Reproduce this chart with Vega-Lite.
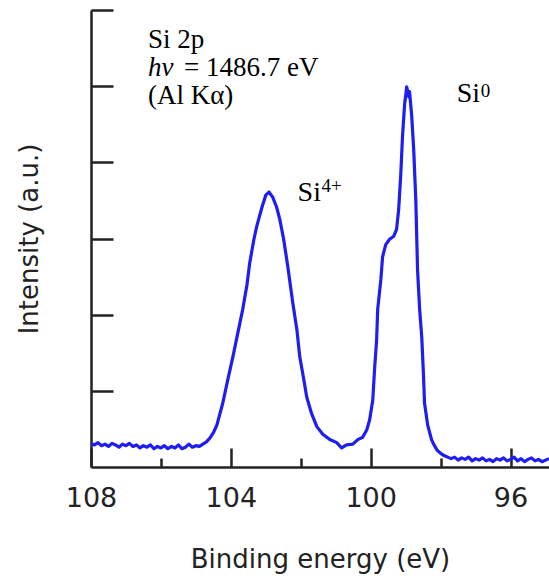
{
  "$schema": "https://vega.github.io/schema/vega-lite/v6.json",
  "width": 458,
  "height": 457,
  "autosize": {"type": "none"},
  "padding": {"left": 91, "top": 10, "right": 0, "bottom": 111},
  "config": {
    "view": {"stroke": null},
    "axis": {"grid": false}
  },
  "encoding": {
    "x": {
      "field": "E", "type": "quantitative",
      "scale": {"domain": [94.9, 108], "reverse": true, "nice": false, "zero": false},
      "axis": {
        "title": "Binding energy (eV)",
        "values": [108, 106, 104, 102, 100, 98, 96],
        "labelExpr": "datum.value % 4 == 0 ? datum.label : ''",
        "tickSize": {"condition": {"test": "datum.value % 4 == 0", "value": -19}, "value": -9},
        "tickWidth": 2.5, "tickColor": "#222",
        "domainColor": "#222", "domainWidth": 2.5,
        "labelFont": "DejaVu Sans", "labelFontSize": 27, "labelColor": "#222",
        "labelPadding": 37, "labelFlush": false, "labelOverlap": false,
        "titleFont": "DejaVu Sans", "titleFontSize": 26, "titleFontWeight": "normal", "titleColor": "#222",
        "titlePadding": 25
      }
    },
    "y": {
      "field": "I", "type": "quantitative",
      "scale": {"domain": [0, 6], "nice": false, "zero": true},
      "axis": {
        "title": "Intensity (a.u.)",
        "values": [1, 2, 3, 4, 5, 6],
        "labels": false,
        "tickSize": -22,
        "tickWidth": 2.5, "tickColor": "#222",
        "domainColor": "#222", "domainWidth": 2.5,
        "titleFont": "DejaVu Sans", "titleFontSize": 26, "titleFontWeight": "normal", "titleColor": "#222",
        "titlePadding": 47
      }
    }
  },
  "layer": [
    {
      "data": {"values": [
        {"E": 108.0, "I": 0.31}, {"E": 107.9, "I": 0.29}, {"E": 107.8, "I": 0.32}, {"E": 107.7, "I": 0.28},
        {"E": 107.6, "I": 0.30}, {"E": 107.5, "I": 0.27}, {"E": 107.4, "I": 0.31}, {"E": 107.3, "I": 0.29},
        {"E": 107.2, "I": 0.26}, {"E": 107.1, "I": 0.30}, {"E": 107.0, "I": 0.28}, {"E": 106.9, "I": 0.31},
        {"E": 106.8, "I": 0.27}, {"E": 106.7, "I": 0.29}, {"E": 106.6, "I": 0.25}, {"E": 106.5, "I": 0.28},
        {"E": 106.4, "I": 0.26}, {"E": 106.3, "I": 0.29}, {"E": 106.2, "I": 0.24}, {"E": 106.1, "I": 0.27},
        {"E": 106.0, "I": 0.25}, {"E": 105.9, "I": 0.28}, {"E": 105.8, "I": 0.24}, {"E": 105.7, "I": 0.27},
        {"E": 105.6, "I": 0.25}, {"E": 105.5, "I": 0.29}, {"E": 105.4, "I": 0.24}, {"E": 105.3, "I": 0.26},
        {"E": 105.2, "I": 0.30}, {"E": 105.1, "I": 0.26}, {"E": 105.0, "I": 0.28}, {"E": 104.9, "I": 0.27},
        {"E": 104.8, "I": 0.30}, {"E": 104.7, "I": 0.33}, {"E": 104.6, "I": 0.38}, {"E": 104.5, "I": 0.45},
        {"E": 104.4, "I": 0.55}, {"E": 104.23, "I": 0.84}, {"E": 104.09, "I": 1.14}, {"E": 103.94, "I": 1.45},
        {"E": 103.80, "I": 1.76}, {"E": 103.66, "I": 2.07}, {"E": 103.54, "I": 2.39}, {"E": 103.46, "I": 2.68},
        {"E": 103.34, "I": 2.99}, {"E": 103.26, "I": 3.16}, {"E": 103.11, "I": 3.41}, {"E": 103.00, "I": 3.57},
        {"E": 102.91, "I": 3.61}, {"E": 102.80, "I": 3.54}, {"E": 102.69, "I": 3.41}, {"E": 102.60, "I": 3.25},
        {"E": 102.49, "I": 2.99}, {"E": 102.37, "I": 2.63}, {"E": 102.23, "I": 2.16}, {"E": 102.11, "I": 1.80},
        {"E": 102.03, "I": 1.45}, {"E": 101.91, "I": 1.14}, {"E": 101.83, "I": 0.92}, {"E": 101.69, "I": 0.70},
        {"E": 101.54, "I": 0.53}, {"E": 101.37, "I": 0.43}, {"E": 101.17, "I": 0.36}, {"E": 100.97, "I": 0.32},
        {"E": 100.83, "I": 0.25}, {"E": 100.69, "I": 0.29}, {"E": 100.51, "I": 0.30}, {"E": 100.37, "I": 0.36},
        {"E": 100.23, "I": 0.39}, {"E": 100.11, "I": 0.49}, {"E": 100.03, "I": 0.62}, {"E": 99.94, "I": 0.88},
        {"E": 99.89, "I": 1.28}, {"E": 99.83, "I": 1.67}, {"E": 99.80, "I": 2.07}, {"E": 99.71, "I": 2.46},
        {"E": 99.66, "I": 2.76}, {"E": 99.57, "I": 2.92}, {"E": 99.46, "I": 2.99}, {"E": 99.34, "I": 3.03},
        {"E": 99.26, "I": 3.12}, {"E": 99.20, "I": 3.38}, {"E": 99.14, "I": 3.84}, {"E": 99.09, "I": 4.34},
        {"E": 99.03, "I": 4.76}, {"E": 98.97, "I": 4.99}, {"E": 98.91, "I": 4.86}, {"E": 98.89, "I": 4.93},
        {"E": 98.83, "I": 4.63}, {"E": 98.77, "I": 4.17}, {"E": 98.71, "I": 3.51}, {"E": 98.66, "I": 2.59},
        {"E": 98.60, "I": 2.07}, {"E": 98.54, "I": 1.71}, {"E": 98.49, "I": 1.21}, {"E": 98.46, "I": 0.84},
        {"E": 98.37, "I": 0.55}, {"E": 98.26, "I": 0.36}, {"E": 98.2, "I": 0.30}, {"E": 98.1, "I": 0.22},
        {"E": 98.0, "I": 0.18}, {"E": 97.9, "I": 0.15}, {"E": 97.8, "I": 0.13}, {"E": 97.7, "I": 0.11},
        {"E": 97.6, "I": 0.13}, {"E": 97.5, "I": 0.09}, {"E": 97.4, "I": 0.12}, {"E": 97.3, "I": 0.10},
        {"E": 97.2, "I": 0.13}, {"E": 97.1, "I": 0.08}, {"E": 97.0, "I": 0.11}, {"E": 96.9, "I": 0.09},
        {"E": 96.8, "I": 0.12}, {"E": 96.7, "I": 0.08}, {"E": 96.6, "I": 0.10}, {"E": 96.5, "I": 0.07},
        {"E": 96.4, "I": 0.11}, {"E": 96.3, "I": 0.09}, {"E": 96.2, "I": 0.12}, {"E": 96.1, "I": 0.08},
        {"E": 96.0, "I": 0.10}, {"E": 95.9, "I": 0.13}, {"E": 95.8, "I": 0.08}, {"E": 95.7, "I": 0.11},
        {"E": 95.6, "I": 0.07}, {"E": 95.5, "I": 0.10}, {"E": 95.4, "I": 0.12}, {"E": 95.3, "I": 0.08},
        {"E": 95.2, "I": 0.10}, {"E": 95.1, "I": 0.07}, {"E": 95.0, "I": 0.09}, {"E": 94.9, "I": 0.11}
      ]},
      "mark": {"type": "line", "color": "#1e1ef0", "strokeWidth": 3.2, "strokeJoin": "round", "clip": true}
    },
    {
      "data": {"values": [{"E": 106.37, "I": 5.50, "t": "Si 2p"}, {"E": 106.37, "I": 4.76, "t": "(Al Kα)"}]},
      "mark": {"type": "text", "font": "Liberation Serif", "fontSize": 27, "align": "left", "baseline": "alphabetic", "color": "#000"},
      "encoding": {"text": {"field": "t"}}
    },
    {
      "data": {"values": [{"E": 106.37, "I": 5.13, "t": "hν"}]},
      "mark": {"type": "text", "font": "Liberation Serif", "fontSize": 27, "fontStyle": "italic", "align": "left", "baseline": "alphabetic", "color": "#000"},
      "encoding": {"text": {"field": "t"}}
    },
    {
      "data": {"values": [{"E": 106.37, "I": 5.13, "t": "= 1486.7 eV"}]},
      "mark": {"type": "text", "font": "Liberation Serif", "fontSize": 27, "align": "left", "baseline": "alphabetic", "color": "#000", "dx": 36},
      "encoding": {"text": {"field": "t"}}
    },
    {
      "data": {"values": [{"E": 102.09, "I": 3.49, "t": "Si"}, {"E": 97.54, "I": 4.79, "t": "Si"}]},
      "mark": {"type": "text", "font": "Liberation Serif", "fontSize": 28, "align": "left", "baseline": "alphabetic", "color": "#000"},
      "encoding": {"text": {"field": "t"}}
    },
    {
      "data": {"values": [{"E": 102.09, "I": 3.49, "t": "4+"}]},
      "mark": {"type": "text", "font": "Liberation Serif", "fontSize": 19, "align": "left", "baseline": "alphabetic", "color": "#000", "dx": 24, "dy": -9},
      "encoding": {"text": {"field": "t"}}
    },
    {
      "data": {"values": [{"E": 97.54, "I": 4.79, "t": "0"}]},
      "mark": {"type": "text", "font": "Liberation Serif", "fontSize": 19, "align": "left", "baseline": "alphabetic", "color": "#000", "dx": 24, "dy": -5},
      "encoding": {"text": {"field": "t"}}
    }
  ]
}
